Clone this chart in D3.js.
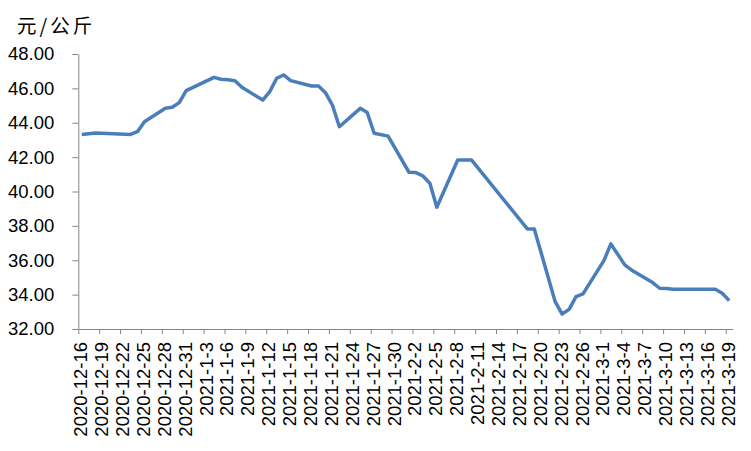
<!DOCTYPE html>
<html>
<head>
<meta charset="utf-8">
<script src="https://cdn.jsdelivr.net/npm/d3@7"></script>
<style>
  body { margin: 0; background: #fff; }
  .axis text { font-family: "Liberation Sans", Arial, sans-serif; fill: #000; }
  .axis path, .axis line { stroke: #868686; }
</style>
</head>
<body>
<div class="chart"></div>
<script>
// price data (yuan per kg)
var dates = ["2020-12-16","2020-12-18","2020-12-23","2020-12-24","2020-12-25","2020-12-28","2020-12-29",
  "2020-12-30","2020-12-31","2021-01-04","2021-01-05","2021-01-06","2021-01-07","2021-01-08","2021-01-11",
  "2021-01-12","2021-01-13","2021-01-14","2021-01-15","2021-01-18","2021-01-19","2021-01-20","2021-01-21",
  "2021-01-22","2021-01-25","2021-01-26","2021-01-27","2021-01-29","2021-02-01","2021-02-02","2021-02-03",
  "2021-02-04","2021-02-05","2021-02-08","2021-02-10","2021-02-18","2021-02-19","2021-02-22","2021-02-23",
  "2021-02-24","2021-02-25","2021-02-26","2021-03-01","2021-03-02","2021-03-04","2021-03-05","2021-03-08",
  "2021-03-09","2021-03-10","2021-03-11","2021-03-17","2021-03-18","2021-03-19"];
var prices = [43.32, 43.40, 43.32, 43.48, 44.06, 44.84, 44.90,
  45.17, 45.87, 46.64, 46.53, 46.50, 46.45, 46.06, 45.32,
  45.81, 46.59, 46.78, 46.45, 46.14, 46.14, 45.75, 45.03,
  43.77, 44.84, 44.60, 43.39, 43.22, 41.12, 41.10, 40.90,
  40.48, 39.08, 41.83, 41.83, 37.82, 37.82, 33.59, 32.87,
  33.14, 33.88, 34.04, 35.98, 36.95, 35.73, 35.42, 34.70,
  34.37, 34.36, 34.31, 34.31, 34.08, 33.65];
var yTicks = [32, 34, 36, 38, 40, 42, 44, 46, 48];
var unitLabel = "元/公斤";

var svgWidth = 751;
var svgHeight = 451;

var svg = d3.select(".chart")
  .append("svg")
  .attr("width", svgWidth)
  .attr("height", svgHeight);

var parseDate = d3.timeParse("%Y-%m-%d");
var fmt = d3.timeFormat("%Y-%-m-%-d");

var data = dates.map(function(d, i) {
  return { date: parseDate(d), price: prices[i] };
});

var start = parseDate("2020-12-16");
var end = parseDate("2021-03-20");

// one slot per calendar day, points sit in the middle of their day
var x = d3.scaleTime().domain([start, end]).range([78.3, 732.7]);
var y = d3.scaleLinear().domain([32, 48]).range([329, 54]);

var tickDates = d3.timeDay.range(start, end, 3);

var xAxis = svg.append("g")
  .attr("class", "axis")
  .attr("transform", "translate(0,329)")
  .call(d3.axisBottom(x).tickValues(tickDates).tickFormat("").tickSize(5).tickSizeOuter(0));

xAxis.selectAll(".label")
  .data(tickDates)
  .enter()
  .append("text")
  .attr("class", "label")
  .attr("transform", function(d) {
    return "translate(" + (x(d3.timeHour.offset(d, 12)) - 1) + ",13) rotate(-90)";
  })
  .attr("dy", "0.35em")
  .style("text-anchor", "end")
  .style("font-size", "18.5px")
  .text(function(d) { return fmt(d); });

var yAxis = svg.append("g")
  .attr("class", "axis")
  .attr("transform", "translate(78.3,0)")
  .call(d3.axisLeft(y).tickValues(yTicks).tickFormat(d3.format(".2f")).tickSize(6).tickSizeOuter(0));

yAxis.selectAll("text")
  .attr("x", -24)
  .style("font-size", "18.5px");

var line = d3.line()
  .x(function(d) { return x(d3.timeHour.offset(d.date, 12)); })
  .y(function(d) { return y(d.price); });

svg.append("path")
  .datum(data)
  .attr("fill", "none")
  .attr("stroke", "#4a7ebb")
  .attr("stroke-width", 3.5)
  .attr("stroke-linejoin", "round")
  .attr("d", line);

svg.append("text")
  .attr("x", 17)
  .attr("y", 33)
  .style("font-family", "'Noto Sans CJK SC', sans-serif")
  .style("font-size", "19.5px")
  .style("letter-spacing", "3px")
  .text(unitLabel);
</script>
</body>
</html>
